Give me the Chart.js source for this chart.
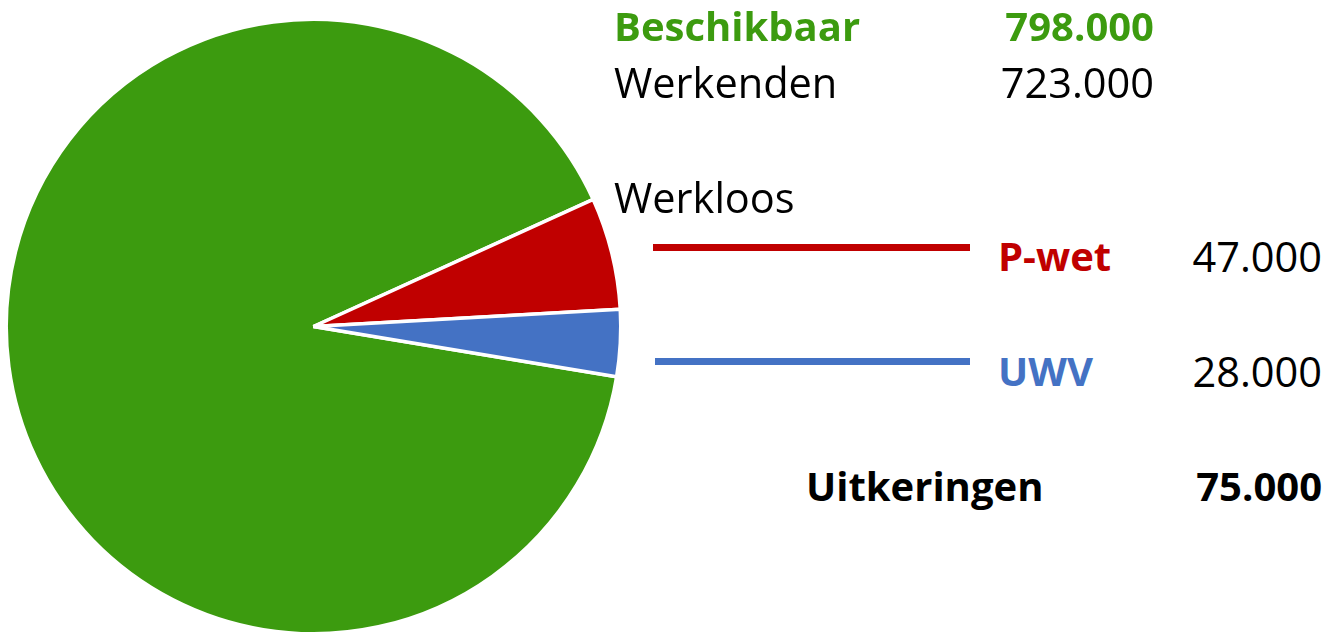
<!DOCTYPE html>
<html>
<head>
<meta charset="utf-8">
<script src="https://cdn.jsdelivr.net/npm/chart.js@4"></script>
<style>
  body { margin: 0; background: #fff; }
  #wrap { position: relative; width: 1338px; height: 634px; overflow: hidden; font-family: "Open Sans", sans-serif; font-size: 41.5px; }
  #pie { position: absolute; left: 0; top: 0; }
  .t { position: absolute; line-height: 40px; white-space: nowrap; }
  .b { font-weight: bold; font-size: 40px; }
  .ln { position: absolute; height: 7px; }
</style>
</head>
<body>
<div id="wrap">
  <canvas id="pie" width="640" height="640"></canvas>
</div>
<script>
// gegevens
var labels = ['Werkenden', 'P-wet', 'UWV'];
var waarden = [723000, 47000, 28000];
var kleuren = ['#3c9b0f', '#c00000', '#4472c4'];

function fmt(v) {
    return String(v).replace(/\B(?=(\d{3})+(?!\d))/g, '.');
}

var totaal = waarden.reduce(function (a, b) { return a + b; }, 0);
var uitkeringen = waarden[1] + waarden[2];

var ctx = document.getElementById('pie');
var myChart = new Chart(ctx, {
    type: 'pie',
    data: {
        labels: labels,
        datasets: [{
            data: waarden,
            backgroundColor: kleuren,
            borderColor: '#ffffff',
            borderWidth: 3.5,
            hoverBorderWidth: 3.5,
            hoverOffset: 0
        }]
    },
    options: {
        responsive: false,
        animation: false,
        rotation: 99.4,
        layout: { padding: { left: 4.5, top: 17.5, right: 17.5, bottom: 4.5 } },
        plugins: {
            legend: { display: false },
            tooltip: { enabled: false }
        }
    }
});

// tekst rechts
var wrap = document.getElementById('wrap');
function tekst(s, x, y, opts) {
    var d = document.createElement('div');
    d.className = 't' + (opts.bold ? ' b' : '');
    d.textContent = s;
    d.style.top = (y - 21) + 'px';
    d.style.color = opts.color || '#000';
    if (opts.right) {
        d.style.right = (1338 - x) + 'px';
    } else {
        d.style.left = x + 'px';
    }
    wrap.appendChild(d);
}
function lijn(x1, x2, y, kleur) {
    var d = document.createElement('div');
    d.className = 'ln';
    d.style.left = x1 + 'px';
    d.style.width = (x2 - x1) + 'px';
    d.style.top = (y - 3) + 'px';
    d.style.background = kleur;
    wrap.appendChild(d);
}

tekst('Beschikbaar', 614, 27, { bold: true, color: kleuren[0] });
tekst(fmt(totaal), 1154, 27, { bold: true, color: kleuren[0], right: true });
tekst(labels[0], 614, 83, {});
tekst(fmt(waarden[0]), 1154, 83, { right: true });
tekst('Werkloos', 614, 198, {});

lijn(653, 970, 247, kleuren[1]);
tekst(labels[1], 998, 257, { bold: true, color: kleuren[1] });
tekst(fmt(waarden[1]), 1322, 257, { right: true });

lijn(655, 970, 361, kleuren[2]);
tekst(labels[2], 998, 372, { bold: true, color: kleuren[2] });
tekst(fmt(waarden[2]), 1322, 372, { right: true });

tekst('Uitkeringen', 806, 487, { bold: true });
tekst(fmt(uitkeringen), 1322, 487, { bold: true, right: true });
</script>
</body>
</html>
